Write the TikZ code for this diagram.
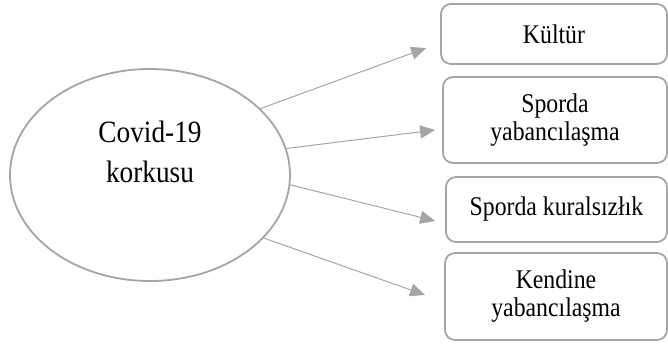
\documentclass[tikz,border=0pt]{standalone}
\usepackage{fontspec}
\setmainfont{Liberation Serif}
\newfontfamily\boxfont[FakeStretch=0.88]{Liberation Serif}
\newfontfamily\elfont[FakeStretch=0.88]{Liberation Serif}
\usetikzlibrary{arrows.meta,shapes.geometric,calc}
\definecolor{lg}{RGB}{165,165,165}
\begin{document}
\begin{tikzpicture}[x=1pt,y=-1pt,
  boxnode/.style={draw=lg,line width=1.8pt,rounded corners=10pt,align=center,
    font=\boxfont\fontsize{27}{28}\selectfont,inner sep=0pt},
  conn/.style={draw=lg,line width=1pt,-{Triangle[length=15pt,width=13pt]}}]
\useasboundingbox (0,0) rectangle (668,343);
\node[ellipse,draw=lg,line width=1.8pt,minimum width=280pt,minimum height=212pt,inner sep=0pt] (e) at (150,175) {};
\node[align=center,font=\elfont\fontsize{31}{40}\selectfont] (et) at (150,152) {Covid-19\\korkusu};
\node[boxnode,minimum width=226pt,minimum height=60pt] (b1) at (554,34) {K\"ult\"ur};
\node[boxnode,minimum width=224pt,minimum height=86pt] (b2) at (555,120) {Sporda\\yabanc\i la\c{s}ma};
\node[boxnode,minimum width=221pt,minimum height=65pt] (b3) at (556.5,209.5) {Sporda kurals\i z\l\i k};
\node[boxnode,minimum width=222pt,minimum height=87pt] (b4) at (556,296.5) {Kendine\\yabanc\i la\c{s}ma};
\coordinate (t1) at ($(b1.west)+(-14,14)$);
\coordinate (t2) at ($(b2.west)+(-7,10)$);
\coordinate (t3) at ($(b3.west)+(-10,11.5)$);
\coordinate (t4) at ($(b4.west)+(-19,-1.5)$);
\draw[conn] (e.31.3) -- (t1);
\draw[conn] (e.11.1) -- (t2);
\draw[conn] (e.-4.1) -- (t3);
\draw[conn] (e.-29.4) -- (t4);
\end{tikzpicture}
\end{document}
